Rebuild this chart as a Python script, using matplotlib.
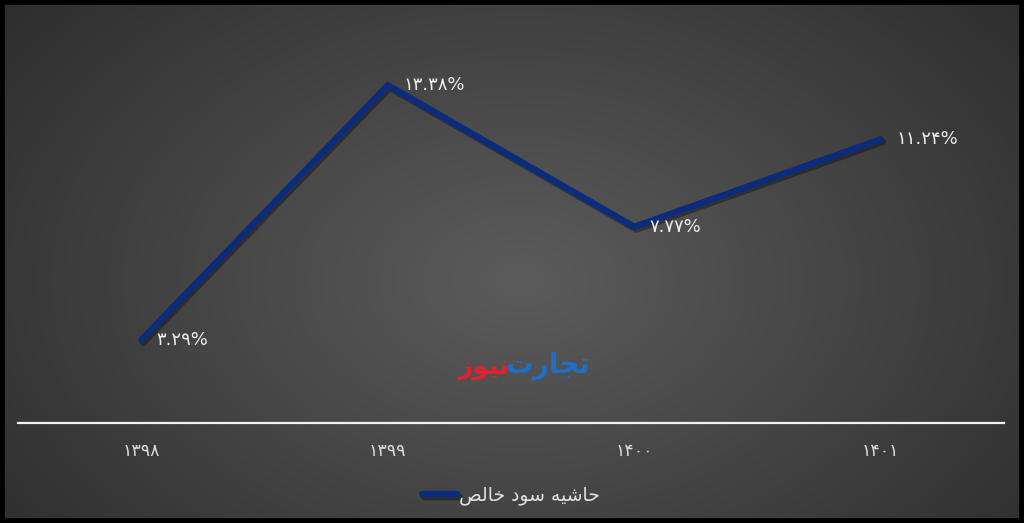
import matplotlib
matplotlib.use("Agg")
import matplotlib.pyplot as plt
import matplotlib.patheffects as pe
import numpy as np

# data
years = ["۱۳۹۸", "۱۳۹۹", "۱۴۰۰", "۱۴۰۱"]
margin = [3.29, 13.38, 7.77, 11.24]
margin_labels = ["۳.۲۹%", "۱۳.۳۸%", "۷.۷۷%", "۱۱.۲۴%"]
# "حاشیه سود خالص" in presentation forms, visual order
series_name = "\uFEBA\uFEDF\uFE8E\uFEA7 \uFEA9\uFEEE\uFEB3 \uFEEA\uFEF4\uFEB7\uFE8E\uFEA3"
logo_blue = "\uFE95\uFEAD\uFE8E\uFEA0\uFE97"   # تجارت
logo_red = "\uFEAF\uFEEE\uFEF4\uFEE7"          # نیوز

plt.rcParams["font.family"] = ["DejaVu Sans"]

fig = plt.figure(figsize=(10.24, 5.23), dpi=100)

# background: radial gray gradient inside a black frame
bg = fig.add_axes([0, 0, 1, 1])
h, w = 523, 1024
yy, xx = np.mgrid[0:h, 0:w]
r = np.sqrt(((xx - 520) / 620.0) ** 2 + ((yy - 280) / 420.0) ** 2)
shade = np.clip(0.36 - 0.17 * r, 0.17, 0.36)
img = np.dstack([shade, shade, shade])
bg.imshow(img, extent=[0, 1, 0, 1], aspect="auto", zorder=0)
bg.set_xlim(0, 1)
bg.set_ylim(0, 1)
bg.set_xticks([])
bg.set_yticks([])
for s in bg.spines.values():
    s.set_color("black")
    s.set_linewidth(7)

ax = fig.add_axes([18 / 1024, 1 - 423 / 523, 986 / 1024, 404 / 523])
ax.set_facecolor("none")
x = np.arange(len(years))
line_color = "#0b2c7c"
ax.plot(
    x, margin, color=line_color, linewidth=4.6, solid_capstyle="round",
    solid_joinstyle="miter", zorder=3,
    path_effects=[pe.SimpleLineShadow(offset=(1.5, -2), shadow_color="black", alpha=0.35), pe.Normal()],
    label=series_name,
)
for xi, v, lab in zip(x, margin, margin_labels):
    ax.annotate(lab, (xi, v), xytext=(11, 0), textcoords="offset points",
                ha="left", va="center", fontsize=13, color="#ededed", zorder=4)

ax.set_xlim(-0.5, len(years) - 0.5)
ax.set_ylim(0, 16)
ax.set_yticks([])
ax.set_xticks(x, years)
ax.tick_params(axis="x", length=0, pad=14, labelsize=12.5, colors="#dcdcdc")
for s in ("top", "right", "left"):
    ax.spines[s].set_visible(False)
ax.spines["bottom"].set_color("#f2f2f2")
ax.spines["bottom"].set_linewidth(1.6)

# watermark logo
fig.text(590 / 1024, 1 - 366 / 523, logo_blue, color="#1f6fc9", fontsize=20,
         fontweight="bold", ha="right", va="center")
fig.text(509 / 1024, 1 - 368 / 523, logo_red, color="#e0222e", fontsize=19,
         fontweight="bold", ha="right", va="center")

leg = ax.legend(loc="lower center", bbox_to_anchor=(0.5, -0.245), frameon=False,
                fontsize=13.5, handlelength=1.9, handletextpad=0.1, markerfirst=True)
for t in leg.get_texts():
    t.set_color("#e0e0e0")

fig.savefig("out.png", dpi=100)
